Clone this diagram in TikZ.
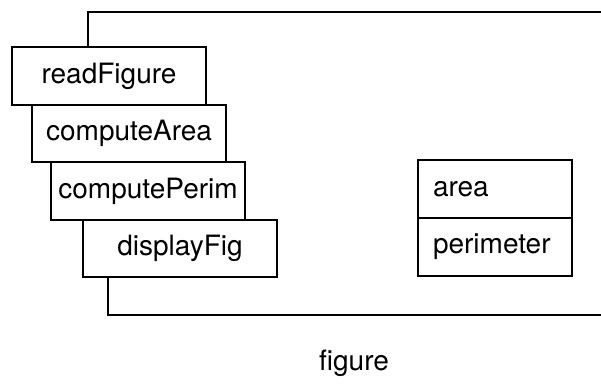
\documentclass[tikz,border=0pt]{standalone}
\usepackage{fontspec}
\setmainfont{TeX Gyre Heros}
\usetikzlibrary{positioning}
\tikzset{
  fnbox/.style={draw, fill=white, minimum width=194pt, minimum height=57.5pt, inner sep=0pt},
  datbox/.style={draw, fill=white, text width=124pt, inner xsep=15pt, inner ysep=0pt,
    outer sep=0pt, minimum height=58pt, align=left}
}

\begin{document}
\begin{tikzpicture}[x=1pt, y=-1pt, line width=1.8pt, font=\fontsize{28}{31}\selectfont]
  \useasboundingbox (0,0) rectangle (601,385);

  % operations, stepped down to the right
  \node[fnbox] (read) at (109,76)    {readFigure};
  \node[fnbox] (area) at (129,133.5) {computeArea};
  \node[fnbox] (perim) at (148,191)  {computePerim};
  \node[fnbox] (disp) at (180,248.5) {displayFig};

  % attributes
  \node[datbox] (aval) at (495,189) {area};
  \node[datbox, below=0pt of aval] (pval) {perimeter};

  % outline of the object, open on the right
  \coordinate (tl) at (88,12);
  \coordinate (tr) at (601,12);
  \coordinate (bl) at (108,315);
  \coordinate (br) at (601,315);
  \draw (read.north -| tl) -- (tl) -- (tr);
  \draw (disp.south -| bl) -- (bl) -- (br);

  \node (name) at (354,363) {figure};
\end{tikzpicture}
\end{document}
